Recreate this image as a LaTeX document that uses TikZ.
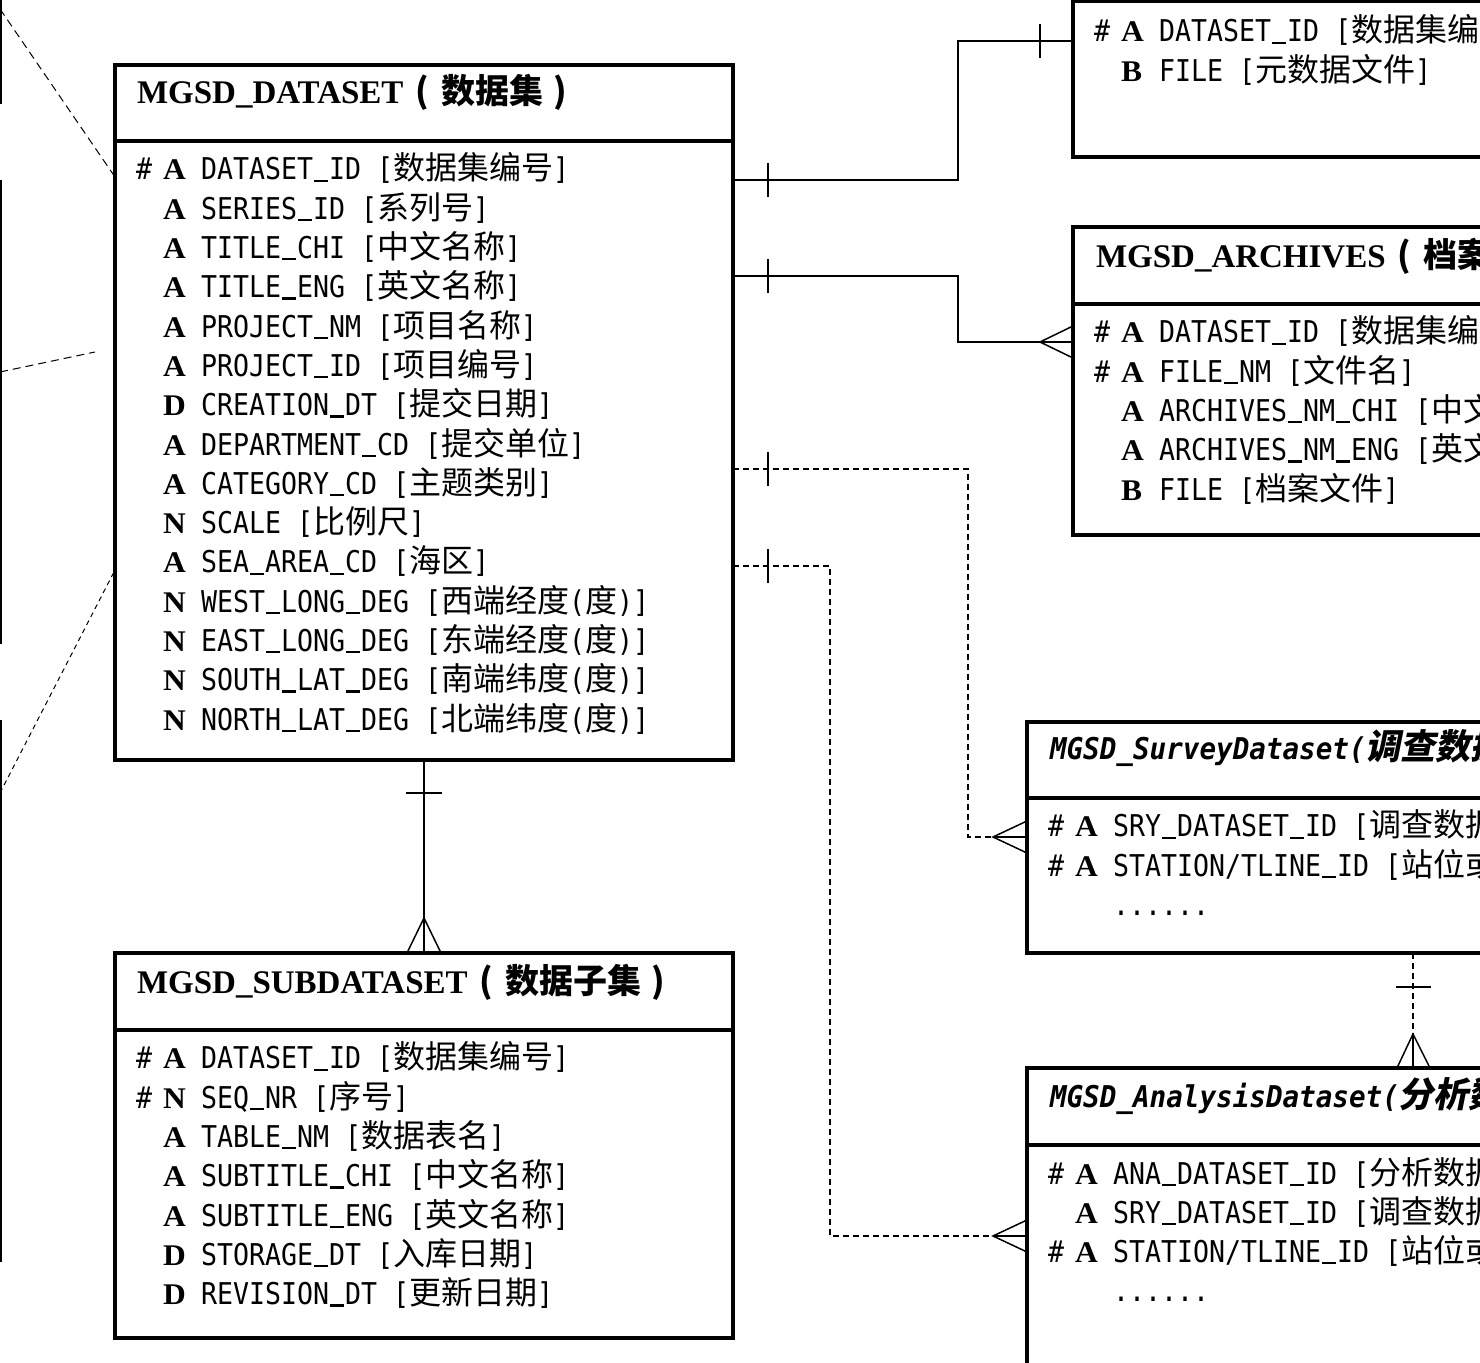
\documentclass[tikz,border=0pt]{standalone}
\usepackage{fontspec}
\usetikzlibrary{calc}
\setmainfont{Liberation Serif}
\newfontfamily\monof[FakeStretch=0.886]{DejaVu Sans Mono}
\newfontfamily\monoitf[FakeStretch=0.92]{DejaVu Sans Mono}
\newfontfamily\cjkf{Noto Sans CJK SC}
\newfontfamily\cjkif[FakeSlant=0.2]{Noto Sans CJK SC}
\newfontfamily\keyf[FakeStretch=1.05]{Liberation Serif}
\newfontfamily\titf{Liberation Serif}
\newcommand\us{\makebox[8pt][c]{\rule[-0.9pt]{7pt}{1.1pt}}}
\newcommand\ecjk[1]{{\cjkf\fontsize{16pt}{18pt}\selectfont #1}}
\newcommand\ekey[1]{{\keyf\bfseries\fontsize{15pt}{16pt}\selectfont #1}}
\newcommand\erow[3]{\makebox[13.5pt][l]{#1}\makebox[19pt][l]{\ekey{#2}}#3}
\newcommand\etitle[2]{{\titf\bfseries\fontsize{16.5pt}{18pt}\selectfont #1}{\cjkf\bfseries\fontsize{17pt}{18pt}\selectfont\hspace{6pt}(\hspace{6pt}#2\hspace{5pt})}}
\newcommand\etitleit[2]{{\monoitf\bfseries\itshape\fontsize{15pt}{16pt}\selectfont #1}{\cjkif\bfseries\fontsize{17.5pt}{18pt}\selectfont #2}}
\begin{document}
\begin{tikzpicture}[x=0.5pt,y=-0.5pt,
  ebox/.style={draw,line width=2pt,anchor=north west,inner sep=0pt,outer sep=0pt},
  divl/.style={line width=1.75pt},
  conn/.style={line width=0.75pt},
  dconn/.style={line width=0.75pt,dash pattern=on 3pt off 2pt},
  ldash/.style={line width=0.5pt,dash pattern=on 4pt off 2.5pt},
  sdash/.style={line width=0.5pt,dash pattern=on 2.5pt off 2pt},
  edge/.style={line width=1.1pt},
  row/.style={anchor=base west,inner sep=0pt,outer sep=0pt,font=\monof\fontsize{15pt}{16pt}\selectfont},
  ttl/.style={anchor=base west,inner sep=0pt,outer sep=0pt}]
\useasboundingbox (0,0) rectangle (1480,1363);
\clip (0,0) rectangle (1480,1363);
\fill[white] (0,0) rectangle (1480,1363);

% ---------------- boxes
\node[ebox,minimum width=309pt,minimum height=347.5pt] (ds) at (115,65) {};
\node[ebox,minimum width=309pt,minimum height=192.5pt] (sb) at (115,953) {};
\node[ebox,minimum width=230pt,minimum height=110pt] (md) at (1073,-63) {};
\node[ebox,minimum width=230pt,minimum height=154pt] (ar) at (1073,227) {};
\node[ebox,minimum width=250pt,minimum height=115.5pt] (sv) at (1027,722) {};
\node[ebox,minimum width=250pt,minimum height=200pt] (an) at (1027,1068) {};

\draw[divl] (ds.west |- 0,141) -- (ds.east |- 0,141);
\draw[divl] (sb.west |- 0,1030) -- (sb.east |- 0,1030);
\draw[divl] (md.west |- 0,1) -- (md.east |- 0,1);
\draw[divl] (ar.west |- 0,304) -- (ar.east |- 0,304);
\draw[divl] (sv.west |- 0,798) -- (sv.east |- 0,798);
\draw[divl] (an.west |- 0,1145) -- (an.east |- 0,1145);

% ---------------- titles
\node[ttl] (dst) at (137,104) {\etitle{MGSD\_DATASET}{数据集}};
\node[ttl] (sbt) at (137,994) {\etitle{MGSD\_SUBDATASET}{数据子集}};
\node[ttl] (art) at (1096,268) {\etitle{MGSD\_ARCHIVES}{档案}};
\node[ttl] (svt) at (1050,760) {\etitleit{MGSD\_SurveyDataset(}{调查数据集}};
\node[ttl] (ant) at (1050,1108) {\etitleit{MGSD\_AnalysisDataset(}{分析数据集}};

% ---------------- MGSD_DATASET rows
\node[row] (ds1) at (136,180) {\erow{\#}{A}{DATASET\us ID [\ecjk{数据集编号}]}};
\node[row] (ds2) at (136,219.3) {\erow{}{A}{SERIES\us ID [\ecjk{系列号}]}};
\node[row] (ds3) at (136,258.6) {\erow{}{A}{TITLE\us CHI [\ecjk{中文名称}]}};
\node[row] (ds4) at (136,297.9) {\erow{}{A}{TITLE\us ENG [\ecjk{英文名称}]}};
\node[row] (ds5) at (136,337.2) {\erow{}{A}{PROJECT\us NM [\ecjk{项目名称}]}};
\node[row] (ds6) at (136,376.5) {\erow{}{A}{PROJECT\us ID [\ecjk{项目编号}]}};
\node[row] (ds7) at (136,415.8) {\erow{}{D}{CREATION\us DT [\ecjk{提交日期}]}};
\node[row] (ds8) at (136,455.1) {\erow{}{A}{DEPARTMENT\us CD [\ecjk{提交单位}]}};
\node[row] (ds9) at (136,494.4) {\erow{}{A}{CATEGORY\us CD [\ecjk{主题类别}]}};
\node[row] (ds10) at (136,533.7) {\erow{}{N}{SCALE [\ecjk{比例尺}]}};
\node[row] (ds11) at (136,573) {\erow{}{A}{SEA\us AREA\us CD [\ecjk{海区}]}};
\node[row] (ds12) at (136,612.3) {\erow{}{N}{WEST\us LONG\us DEG [\ecjk{西端经度}(\ecjk{度})]}};
\node[row] (ds13) at (136,651.6) {\erow{}{N}{EAST\us LONG\us DEG [\ecjk{东端经度}(\ecjk{度})]}};
\node[row] (ds14) at (136,690.9) {\erow{}{N}{SOUTH\us LAT\us DEG [\ecjk{南端纬度}(\ecjk{度})]}};
\node[row] (ds15) at (136,730.2) {\erow{}{N}{NORTH\us LAT\us DEG [\ecjk{北端纬度}(\ecjk{度})]}};

% ---------------- MGSD_SUBDATASET rows
\node[row] (sb1) at (136,1069) {\erow{\#}{A}{DATASET\us ID [\ecjk{数据集编号}]}};
\node[row] (sb2) at (136,1108.3) {\erow{\#}{N}{SEQ\us NR [\ecjk{序号}]}};
\node[row] (sb3) at (136,1147.6) {\erow{}{A}{TABLE\us NM [\ecjk{数据表名}]}};
\node[row] (sb4) at (136,1186.9) {\erow{}{A}{SUBTITLE\us CHI [\ecjk{中文名称}]}};
\node[row] (sb5) at (136,1226.2) {\erow{}{A}{SUBTITLE\us ENG [\ecjk{英文名称}]}};
\node[row] (sb6) at (136,1265.5) {\erow{}{D}{STORAGE\us DT [\ecjk{入库日期}]}};
\node[row] (sb7) at (136,1304.8) {\erow{}{D}{REVISION\us DT [\ecjk{更新日期}]}};

% ---------------- metadata rows
\node[row] (md1) at (1094,42) {\erow{\#}{A}{DATASET\us ID [\ecjk{数据集编号}]}};
\node[row] (md2) at (1094,81.3) {\erow{}{B}{FILE [\ecjk{元数据文件}]}};

% ---------------- MGSD_ARCHIVES rows
\node[row] (ar1) at (1094,343) {\erow{\#}{A}{DATASET\us ID [\ecjk{数据集编号}]}};
\node[row] (ar2) at (1094,382.3) {\erow{\#}{A}{FILE\us NM [\ecjk{文件名}]}};
\node[row] (ar3) at (1094,421.6) {\erow{}{A}{ARCHIVES\us NM\us CHI [\ecjk{中文名称}]}};
\node[row] (ar4) at (1094,460.9) {\erow{}{A}{ARCHIVES\us NM\us ENG [\ecjk{英文名称}]}};
\node[row] (ar5) at (1094,500.2) {\erow{}{B}{FILE [\ecjk{档案文件}]}};

% ---------------- survey rows
\node[row] (sv1) at (1048,837) {\erow{\#}{A}{SRY\us DATASET\us ID [\ecjk{调查数据集编号}]}};
\node[row] (sv2) at (1048,876.3) {\erow{\#}{A}{STATION/TLINE\us ID [\ecjk{站位或测线编号}]}};
\node[row] (sv3) at (1048,915.6) {\erow{}{}{......}};

% ---------------- analysis rows
\node[row] (an1) at (1048,1184) {\erow{\#}{A}{ANA\us DATASET\us ID [\ecjk{分析数据集编号}]}};
\node[row] (an2) at (1048,1223.3) {\erow{}{A}{SRY\us DATASET\us ID [\ecjk{调查数据集编号}]}};
\node[row] (an3) at (1048,1262.6) {\erow{\#}{A}{STATION/TLINE\us ID [\ecjk{站位或测线编号}]}};
\node[row] (an4) at (1048,1301.9) {\erow{}{}{......}};

% ---------------- connectors
% DATASET -> metadata (one to one)
\coordinate (c1s) at (ds.east |- 0,180);
\coordinate (c1e) at (md.west |- 0,41);
\draw[conn] (c1s) -| ($(c1e)+(-115,0)$) -- (c1e);
\draw[conn] ($(c1s)+(35,-17)$) -- ($(c1s)+(35,17)$);
\draw[conn] ($(c1e)+(-33,-17)$) -- ($(c1e)+(-33,17)$);

% DATASET -> archives (one to many)
\coordinate (c2s) at (ds.east |- 0,276);
\coordinate (c2e) at (ar.west |- 0,342);
\draw[conn] (c2s) -| ($(c2e)+(-115,0)$) -- (c2e);
\draw[conn] ($(c2s)+(35,-17)$) -- ($(c2s)+(35,17)$);
\draw[conn] ($(c2e)+(0,-16)$) -- ($(c2e)+(-33,0)$) -- ($(c2e)+(0,16)$);

% DATASET -> survey (dashed, one to many)
\coordinate (c3s) at (ds.east |- 0,469);
\coordinate (c3e) at (sv.west |- 0,837);
\draw[dconn] (c3s) -| ($(c3e)+(-59,0)$) -- ($(c3e)+(-34,0)$);
\draw[conn] ($(c3e)+(-34,0)$) -- (c3e);
\draw[conn] ($(c3s)+(35,-17)$) -- ($(c3s)+(35,17)$);
\draw[conn] ($(c3e)+(0,-16)$) -- ($(c3e)+(-34,0)$) -- ($(c3e)+(0,16)$);

% DATASET -> analysis (dashed, one to many)
\coordinate (c4s) at (ds.east |- 0,566);
\coordinate (c4e) at (an.west |- 0,1236);
\draw[dconn] (c4s) -| ($(c4e)+(-197,0)$) -- ($(c4e)+(-34,0)$);
\draw[conn] ($(c4e)+(-34,0)$) -- (c4e);
\draw[conn] ($(c4s)+(35,-17)$) -- ($(c4s)+(35,17)$);
\draw[conn] ($(c4e)+(0,-16)$) -- ($(c4e)+(-34,0)$) -- ($(c4e)+(0,16)$);

% DATASET -> SUBDATASET
\coordinate (c5s) at (ds.south);
\coordinate (c5e) at (sb.north);
\draw[conn] (c5s) -- (c5e);
\draw[conn] ($(c5s)+(-18,33)$) -- ($(c5s)+(18,33)$);
\draw[conn] ($(c5e)+(-17,0)$) -- ($(c5e)+(0,-35)$) -- ($(c5e)+(17,0)$);

% survey -> analysis (dashed)
\coordinate (c6s) at ($(sv.south west)+(386,0)$);
\coordinate (c6e) at ($(an.north west)+(386,0)$);
\draw[dconn] (c6s) -- ($(c6e)+(0,-34)$);
\draw[conn] ($(c6e)+(0,-34)$) -- (c6e);
\draw[conn] ($(c6s)+(-17,34)$) -- ($(c6s)+(18,34)$);
\draw[conn] ($(c6e)+(-16,0)$) -- ($(c6e)+(0,-34)$) -- ($(c6e)+(17,0)$);

% ---------------- partial entities at left edge
\coordinate (l1a) at (1,0);   \coordinate (l1b) at (1,104);
\coordinate (l2a) at (1,180); \coordinate (l2b) at (1,644);
\coordinate (l3a) at (1,720); \coordinate (l3b) at (1,1262);
\draw[edge] (l1a) -- (l1b);
\draw[edge] (l2a) -- (l2b);
\draw[edge] (l3a) -- (l3b);
\coordinate (d1s) at (0,9);
\coordinate (d2s) at (0,372);
\coordinate (d2e) at (95,352);
\coordinate (d3s) at (0,793);
\draw[ldash] (d1s) -- (ds.west |- 0,177);
\draw[ldash] (d2s) -- (d2e);
\draw[sdash] (d3s) -- (ds.west |- 0,570);
\end{tikzpicture}
\end{document}
